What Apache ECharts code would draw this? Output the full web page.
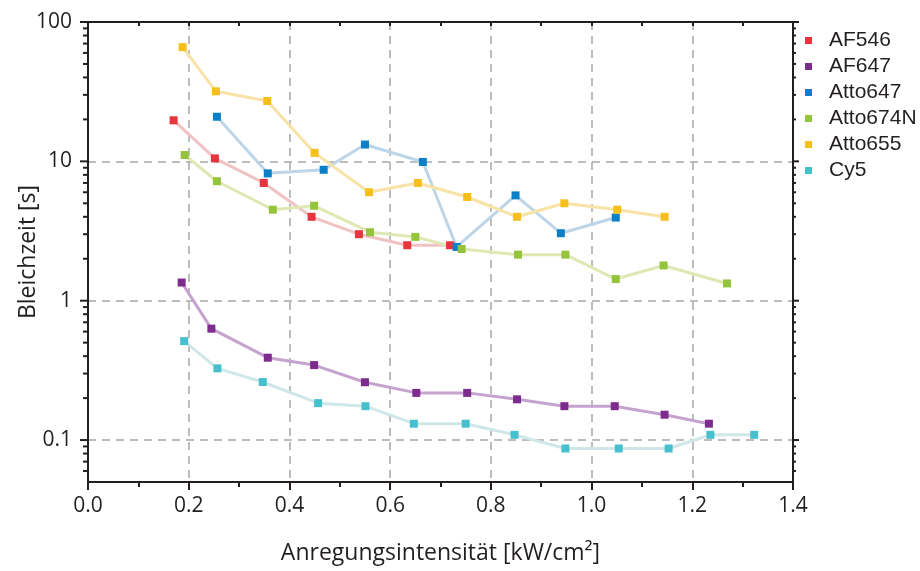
<!DOCTYPE html>
<html>
<head>
<meta charset="utf-8">
<script src="https://cdn.jsdelivr.net/npm/echarts@6/dist/echarts.min.js"></script>
<style>
  html, body { margin: 0; padding: 0; background: #ffffff; }
  #chart { width: 920px; height: 571px; }
</style>
</head>
<body>
<div id="chart"></div>
<script>
// Photobleaching time of several dyes versus excitation intensity
const seriesNames = ['AF546', 'AF647', 'Atto647', 'Atto674N', 'Atto655', 'Cy5'];

const af546X = [0.17, 0.252, 0.349, 0.444, 0.538, 0.634, 0.719];
const af546Y = [19.7, 10.5, 7.0, 4.0, 3.0, 2.5, 2.5];

const af647X = [0.186, 0.245, 0.357, 0.449, 0.55, 0.652, 0.753, 0.852, 0.946, 1.046, 1.145, 1.233];
const af647Y = [1.35, 0.63, 0.39, 0.345, 0.26, 0.218, 0.218, 0.196, 0.175, 0.175, 0.152, 0.131];

const atto647X = [0.256, 0.357, 0.468, 0.55, 0.665, 0.732, 0.849, 0.939, 1.048];
const atto647Y = [20.9, 8.2, 8.7, 13.2, 9.9, 2.43, 5.7, 3.05, 3.95];

const atto674nX = [0.192, 0.256, 0.367, 0.449, 0.56, 0.65, 0.742, 0.854, 0.948, 1.048, 1.143, 1.269];
const atto674nY = [11.1, 7.2, 4.5, 4.8, 3.1, 2.87, 2.35, 2.14, 2.14, 1.43, 1.79, 1.33];

const atto655X = [0.188, 0.254, 0.356, 0.45, 0.558, 0.655, 0.753, 0.852, 0.946, 1.051, 1.145];
const atto655Y = [66, 31.8, 27.1, 11.5, 6.0, 7.0, 5.55, 4.0, 5.0, 4.5, 4.0];

const cy5X = [0.191, 0.257, 0.347, 0.457, 0.551, 0.647, 0.75, 0.847, 0.948, 1.054, 1.153, 1.236, 1.323];
const cy5Y = [0.513, 0.327, 0.261, 0.184, 0.175, 0.131, 0.131, 0.109, 0.087, 0.087, 0.087, 0.109, 0.109];

// Log axis tick values
const yMajorTicks = [0.1, 1, 10, 100];
const yMinorTicks = [0.06, 0.07, 0.08, 0.09, 0.2, 0.3, 0.4, 0.5, 0.6, 0.7, 0.8, 0.9,
                     2, 3, 4, 5, 6, 7, 8, 9, 20, 30, 40, 50, 60, 70, 80, 90];

const markerColors = ['#e8343c', '#7d2c8e', '#0b7fc7', '#94c43c', '#f6bf1c', '#45c0cc'];
const lineColors   = ['#f1c2c3', '#c6a3cf', '#bcd5e8', '#dfe8b3', '#f9e2a6', '#cfe7e8'];

const xs = [af546X, af647X, atto647X, atto674nX, atto655X, cy5X];
const ys = [af546Y, af647Y, atto647Y, atto674nY, atto655Y, cy5Y];

const X_MIN = 0, X_MAX = 1.4, Y_MIN = 0.05, Y_MAX = 100;
const axisColor = '#231f20';
const tickFont = '"Open Sans", sans-serif';

const dataSeries = seriesNames.map((name, i) => ({
  name: name,
  type: 'line',
  data: xs[i].map((x, j) => [x, ys[i][j]]),
  symbol: 'rect',
  symbolSize: 8,
  itemStyle: { color: markerColors[i] },
  lineStyle: { color: lineColors[i], width: 3 },
  z: 3
}));

// Log-axis tick marks on the left and right frame edges
const tickData = yMajorTicks.map(v => [0, v, 8]).concat(yMinorTicks.map(v => [0, v, 5]));
const tickSeries = {
  type: 'custom',
  coordinateSystem: 'cartesian2d',
  silent: true,
  clip: false,
  z: 5,
  encode: { x: 0, y: 1 },
  data: tickData,
  renderItem: function (params, api) {
    const v = api.value(1);
    const len = api.value(2);
    const pl = api.coord([X_MIN, v]);
    const pr = api.coord([X_MAX, v]);
    const st = { stroke: axisColor, lineWidth: 2 };
    return {
      type: 'group',
      children: [
        { type: 'line', shape: { x1: pl[0] - len, y1: pl[1], x2: pl[0], y2: pl[1] }, style: st },
        { type: 'line', shape: { x1: pr[0], y1: pr[1], x2: pr[0] + len - 2, y2: pr[1] }, style: st }
      ]
    };
  }
};

const chart = echarts.init(document.getElementById('chart'), null, { renderer: 'canvas' });
chart.setOption({
  animation: false,
  backgroundColor: '#ffffff',
  grid: { left: 88, right: 127, top: 22, bottom: 89, containLabel: false, outerBoundsMode: 'none' },
  legend: {
    data: seriesNames,
    orient: 'vertical',
    left: 800,
    top: 25,
    itemWidth: 7,
    itemHeight: 7,
    itemGap: 5,
    icon: 'rect',
    textStyle: {
      fontFamily: '"Liberation Sans", Arial, sans-serif',
      fontSize: 21,
      color: axisColor,
      padding: [0, 0, 0, 12],
      lineHeight: 21
    }
  },
  xAxis: [
    {
      type: 'value',
      position: 'bottom',
      min: X_MIN, max: X_MAX, interval: 0.2,
      axisLine: { show: true, onZero: false, lineStyle: { color: axisColor, width: 2 } },
      axisTick: { show: true, inside: false, length: 8, lineStyle: { color: axisColor, width: 2 } },
      minorTick: { show: true, splitNumber: 2, length: 5, lineStyle: { color: axisColor, width: 2 } },
      axisLabel: {
        margin: 14,
        fontFamily: tickFont, fontSize: 21, color: axisColor,
        formatter: v => v.toFixed(1)
      },
      splitLine: { show: true, lineStyle: { color: '#a8a8a8', width: 1.5, type: [8, 6] } },
      name: 'Anregungsintensität [kW/cm²]',
      nameLocation: 'middle',
      nameGap: 60,
      nameMoveOverlap: false,
      nameTextStyle: { fontFamily: tickFont, fontSize: 23, color: axisColor }
    },
    {
      type: 'value',
      position: 'top',
      min: X_MIN, max: X_MAX, interval: 0.2,
      axisLine: { show: true, onZero: false, lineStyle: { color: axisColor, width: 2 } },
      axisTick: { show: true, inside: true, length: 4, lineStyle: { color: axisColor, width: 2 } },
      minorTick: { show: true, splitNumber: 2, length: 4, lineStyle: { color: axisColor, width: 2 } },
      axisLabel: { show: false },
      splitLine: { show: false }
    }
  ],
  yAxis: [
    {
      type: 'log',
      logBase: 10,
      position: 'left',
      min: Y_MIN, max: Y_MAX,
      axisLine: { show: true, onZero: false, lineStyle: { color: axisColor, width: 2 } },
      axisTick: { show: false },
      axisLabel: {
        margin: 16,
        fontFamily: tickFont, fontSize: 21, color: axisColor,
        formatter: function (v) {
          const e = Math.log10(v);
          if (Math.abs(e - Math.round(e)) > 1e-6) return '';
          return e < 0 ? v.toFixed(-Math.round(e)) : String(Math.round(v));
        }
      },
      splitLine: { show: true, lineStyle: { color: '#a8a8a8', width: 1.5, type: [8, 6] } },
      name: 'Bleichzeit [s]',
      nameLocation: 'middle',
      nameGap: 48,
      nameMoveOverlap: false,
      nameTextStyle: { fontFamily: tickFont, fontSize: 23, color: axisColor }
    },
    {
      type: 'log',
      logBase: 10,
      position: 'right',
      min: Y_MIN, max: Y_MAX,
      axisLine: { show: true, onZero: false, lineStyle: { color: axisColor, width: 2 } },
      axisTick: { show: false },
      axisLabel: { show: false },
      splitLine: { show: false }
    }
  ],
  series: dataSeries.concat([tickSeries])
});
</script>
</body>
</html>
